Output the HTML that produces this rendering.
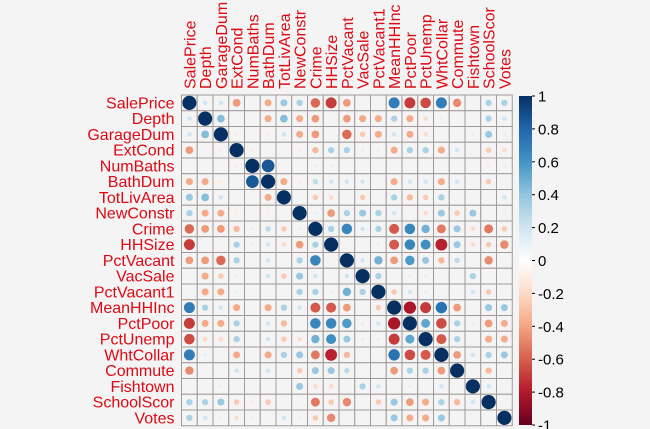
<!DOCTYPE html>
<html><head><meta charset="utf-8"><style>
html,body{margin:0;padding:0;background:#f5f4f4;}
svg{display:block;font-family:"Liberation Sans",sans-serif;}
</style></head><body>
<svg id="c" width="650" height="429"></svg>
<script>
const labels=["SalePrice","Depth","GarageDum","ExtCond","NumBaths","BathDum","TotLivArea","NewConstr","Crime","HHSize","PctVacant","VacSale","PctVacant1","MeanHHInc","PctPoor","PctUnemp","WhtCollar","Commute","Fishtown","SchoolScor","Votes"];
const upper=[
[0.1,0.1,-0.3,0,-0.25,0.25,0.2,-0.45,-0.6,-0.3,0,0.02,0.6,-0.6,-0.55,0.6,-0.35,0.02,0.2,0.2],
[0.3,0.03,-0.03,-0.25,0.3,-0.25,-0.3,0.03,-0.3,-0.25,-0.25,0.2,-0.25,-0.1,0.05,0.02,0.03,0.2,0.1],
[-0.05,-0.03,-0.05,0.1,-0.25,-0.3,-0.03,-0.45,-0.15,-0.25,0.1,-0.25,-0.1,0.03,0.02,0.05,0.25,0.05],
[-0.05,0,0,-0.05,-0.2,0.2,0.2,0.05,0.05,-0.25,0.2,0.2,-0.25,0.1,0,-0.15,-0.1],
[0.8,0,0,0.05,0.05,0.03,0.03,0,0.02,0.02,0.02,0,0,0,-0.05,0.05],
[-0.25,-0.05,0.15,0.1,0.1,0.1,0.03,-0.25,0.1,0.1,-0.25,0.1,0,-0.15,0.03],
[0.02,-0.15,-0.1,0.03,-0.15,0.02,0.2,-0.2,-0.15,0.2,0.02,0,0.02,0.1],
[0.05,-0.3,0.2,0.25,0.2,0.1,0.02,-0.1,0.25,-0.15,0.25,0.02,0.05],
[0.2,0.55,0.1,0.2,-0.5,0.55,0.35,-0.4,0.25,-0.1,-0.4,-0.15],
[0.02,0.02,0.05,-0.5,0.55,0.5,-0.7,0.25,-0.1,-0.15,-0.35],
[0.1,0.35,-0.3,0.45,0.25,-0.2,0.15,0,-0.35,0.02],
[0.2,0,0.05,0.05,0.02,0,0.2,0,0],
[-0.15,0.1,0.05,0,0,0.1,-0.15,0],
[-0.75,-0.6,0.65,-0.3,0.02,0.25,0.25],
[0.4,-0.55,0.2,0.05,-0.3,-0.25],
[-0.5,0.2,0,-0.25,-0.25],
[-0.3,0.1,0.2,0.25],
[0,-0.2,0.02],
[0.1,0],
[0]
];
const ticks=["1","0.8","0.6","0.4","0.2","0","-0.2","-0.4","-0.6","-0.8","-1"];
const N=labels.length, L=181.5, T=95, C=15.75;
const NS="http://www.w3.org/2000/svg";
const svg=document.getElementById('c');
function mk(t,a,p){const e=document.createElementNS(NS,t);for(const k in a)e.setAttribute(k,a[k]);(p||svg).appendChild(e);return e;}
const stops=[[-1,[103,0,31]],[-0.8,[178,24,43]],[-0.6,[214,96,77]],[-0.4,[244,165,130]],[-0.2,[253,219,199]],[0,[255,255,255]],[0.2,[209,229,240]],[0.4,[146,197,222]],[0.6,[67,147,195]],[0.8,[33,102,172]],[1,[5,48,97]]];
function colRaw(v){for(let i=0;i<stops.length-1;i++){const a=stops[i],b=stops[i+1];if(v>=a[0]&&v<=b[0]){const t=(v-a[0])/(b[0]-a[0]);const c=a[1].map((x,j)=>Math.round(x+(b[1][j]-x)*t));return `rgb(${c})`;}}return '#fff';}
function col(v){const s=Math.sign(v)*Math.min(1,Math.pow(Math.abs(v),0.7)*1.0);return colRaw(s);}
function val(i,j){if(i===j)return 1;if(i>j){const t=i;i=j;j=t;}return upper[i][j-i-1];}
const x=j=>L+j*C, y=i=>T+i*C;
const g=mk('g',{});


for(let i=0;i<N;i++)for(let j=0;j<N;j++){
  const r=mk('rect',{x:x(j),y:y(i),width:C,height:C,fill:'#f5f4f4',stroke:'#a09a9a','stroke-width':1},g);
  
  
}
for(let i=0;i<N;i++)for(let j=0;j<N;j++){
  const v=val(i,j);if(Math.abs(v)<0.005)continue;
  const c=mk('circle',{cx:x(j)+C/2,cy:y(i)+C/2,r:0.45*C*Math.sqrt(Math.abs(v)),fill:col(v)});
  
  
}
for(let i=0;i<N;i++){
  const t=mk('text',{x:L-7,y:y(i)+C/2+5.5,'text-anchor':'end','font-size':16,fill:'#dc0a14'});t.textContent=labels[i];
  
  
  const u=mk('text',{transform:`translate(${x(i)+C/2+6},${T-6}) rotate(-90)`,'font-size':16,fill:'#dc0a14'});u.textContent=labels[i];
  
  
}
const defs=mk('defs',{});const lg=mk('linearGradient',{id:'lg',x1:0,y1:0,x2:0,y2:1},defs);
stops.slice().reverse().forEach((s,k)=>mk('stop',{offset:k/10,'stop-color':colRaw(s[0])},lg));
const CB0=96, CB1=425;
const cb=mk('rect',{x:519,y:CB0,width:13,height:CB1-CB0,fill:'url(#lg)'});


ticks.forEach((s,k)=>{const yy=CB0+k*(CB1-CB0)/10;
  mk('line',{x1:532,x2:535,y1:yy,y2:yy,stroke:'#000'});
  const t=mk('text',{x:538,y:yy+5.5,'font-size':15,fill:'#000'});t.textContent=s;
  
  });
</script>
</body></html>
